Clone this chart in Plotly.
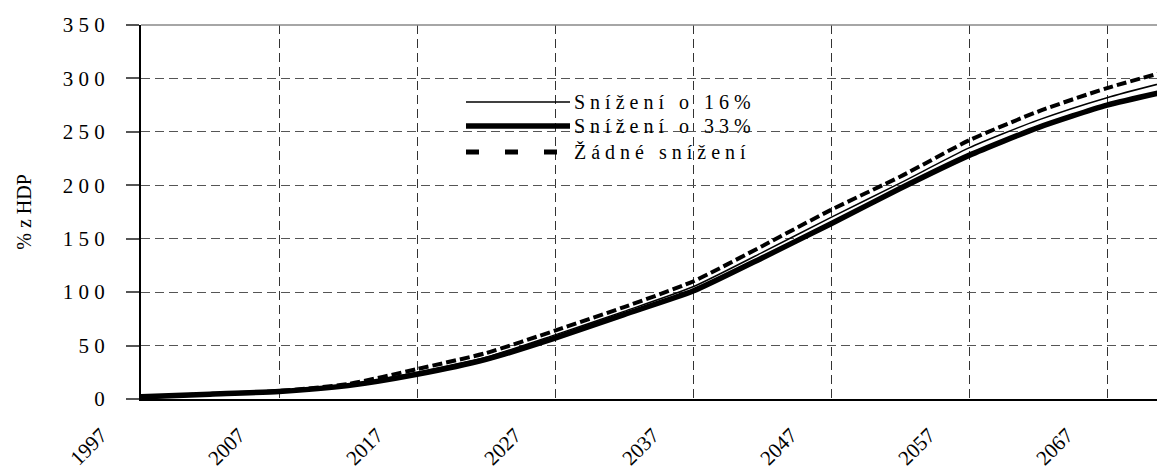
import plotly.graph_objects as go

years = [1997, 2002, 2007, 2012, 2017, 2022, 2027, 2032, 2037, 2042, 2047, 2052, 2057, 2062, 2067, 2072]
s16 = [2, 4.5, 7, 13, 25, 39, 60, 82, 105, 137, 170, 202, 235, 261, 282, 299]
s33 = [2, 4.5, 7, 12.5, 23, 37, 57, 79, 101, 132, 164, 197, 228, 254, 275, 290]
s00 = [2, 4.5, 7.5, 14, 28, 43, 64, 86, 110, 143, 177, 208, 242, 269, 291, 309]

names = ["Snížení o 16%", "Snížení o 33%", "Žádné snížení"]
x_ticks = [1997, 2007, 2017, 2027, 2037, 2047, 2057, 2067]
y_ticks = [0, 50, 100, 150, 200, 250, 300, 350]
y_title = "% z HDP"

FONT = "Liberation Serif, Times New Roman, serif"


def spaced(s):
    out = []
    for ch in s:
        out.append("\u00a0" if ch == " " else ch)
    return " ".join(out)


styles = [
    dict(color="black", width=1.5, dash="solid"),
    dict(color="black", width=5.5, dash="solid"),
    dict(color="black", width=4, dash="10px,4px"),
]
legend_width = [1.5, 5.5, 5]
legend_dash = ["solid", "solid", "13px,26px"]
series = [s16, s33, s00]

fig = go.Figure()
for nm, ys, st in zip(names, series, styles):
    fig.add_trace(go.Scatter(x=years, y=ys, mode="lines", name=nm,
                             line=dict(color=st["color"], width=st["width"], dash=st["dash"],
                                       shape="spline", smoothing=0.6),
                             showlegend=False))

# page body has an 8px margin: figure occupies 8..1165 x 8..471
OFF = 8
W, H = 1165 - OFF, 471 - OFF
L, R, T, B = 141 - OFF, 0, 25 - OFF, 72
pw, ph = W - L - R, H - T - B


def px2paper_x(px):
    return (px - OFF - L) / pw


def px2paper_y(py):
    return (OFF + T + ph - py) / ph


shapes = []
annotations = []
# legend box (white, hides gridlines)
shapes.append(dict(type="rect", xref="paper", yref="paper",
                   x0=px2paper_x(383), x1=px2paper_x(792),
                   y0=px2paper_y(164), y1=px2paper_y(86),
                   fillcolor="white", line=dict(width=0), layer="between"))
rows_y = [102, 126, 152]
for i, nm in enumerate(names):
    yy = px2paper_y(rows_y[i])
    shapes.append(dict(type="line", xref="paper", yref="paper",
                       x0=px2paper_x(466), x1=px2paper_x(570), y0=yy, y1=yy,
                       line=dict(color="black", width=legend_width[i], dash=legend_dash[i]),
                       layer="above"))
    annotations.append(dict(xref="paper", yref="paper", x=px2paper_x(572), y=yy,
                            xanchor="left", yanchor="middle", showarrow=False,
                            text=spaced(nm), font=dict(family=FONT, size=20, color="black")))
# top border line
shapes.append(dict(type="line", xref="paper", yref="paper", x0=0, x1=1, y0=1, y1=1,
                   line=dict(color="#888888", width=1.5), layer="above"))

fig.update_layout(
    width=W, height=H,
    margin=dict(l=L, r=R, t=T, b=B, autoexpand=False),
    paper_bgcolor="white", plot_bgcolor="white",
    font=dict(family=FONT, size=20, color="black"),
    shapes=shapes, annotations=annotations,
    showlegend=False,
)
fig.update_xaxes(
    range=[1997, 2071.2], tickmode="array", tickvals=x_ticks,
    ticktext=[str(v) for v in x_ticks], tickangle=-45,
    showgrid=True, gridcolor="#333333", griddash="9px,5px", gridwidth=1,
    showline=True, linecolor="black", linewidth=1.5,
    ticks="", zeroline=False,
    tickfont=dict(family=FONT, size=21, color="black"),
    ticklabelshift=-40, ticklabelstandoff=14,
)
fig.update_yaxes(
    range=[0, 350], tickmode="array", tickvals=y_ticks,
    ticktext=[spaced(str(v)) for v in y_ticks],
    showgrid=True, gridcolor="#555555", griddash="9px,5px", gridwidth=1,
    showline=True, linecolor="black", linewidth=2,
    ticks="outside", ticklen=13, tickcolor="#555555", tickwidth=1.5,
    zeroline=False,
    tickfont=dict(family=FONT, size=21, color="black"),
    ticklabelstandoff=17,
    title=dict(text=y_title, font=dict(family=FONT, size=20, color="black"), standoff=26),
)

fig.write_html("out.html")
